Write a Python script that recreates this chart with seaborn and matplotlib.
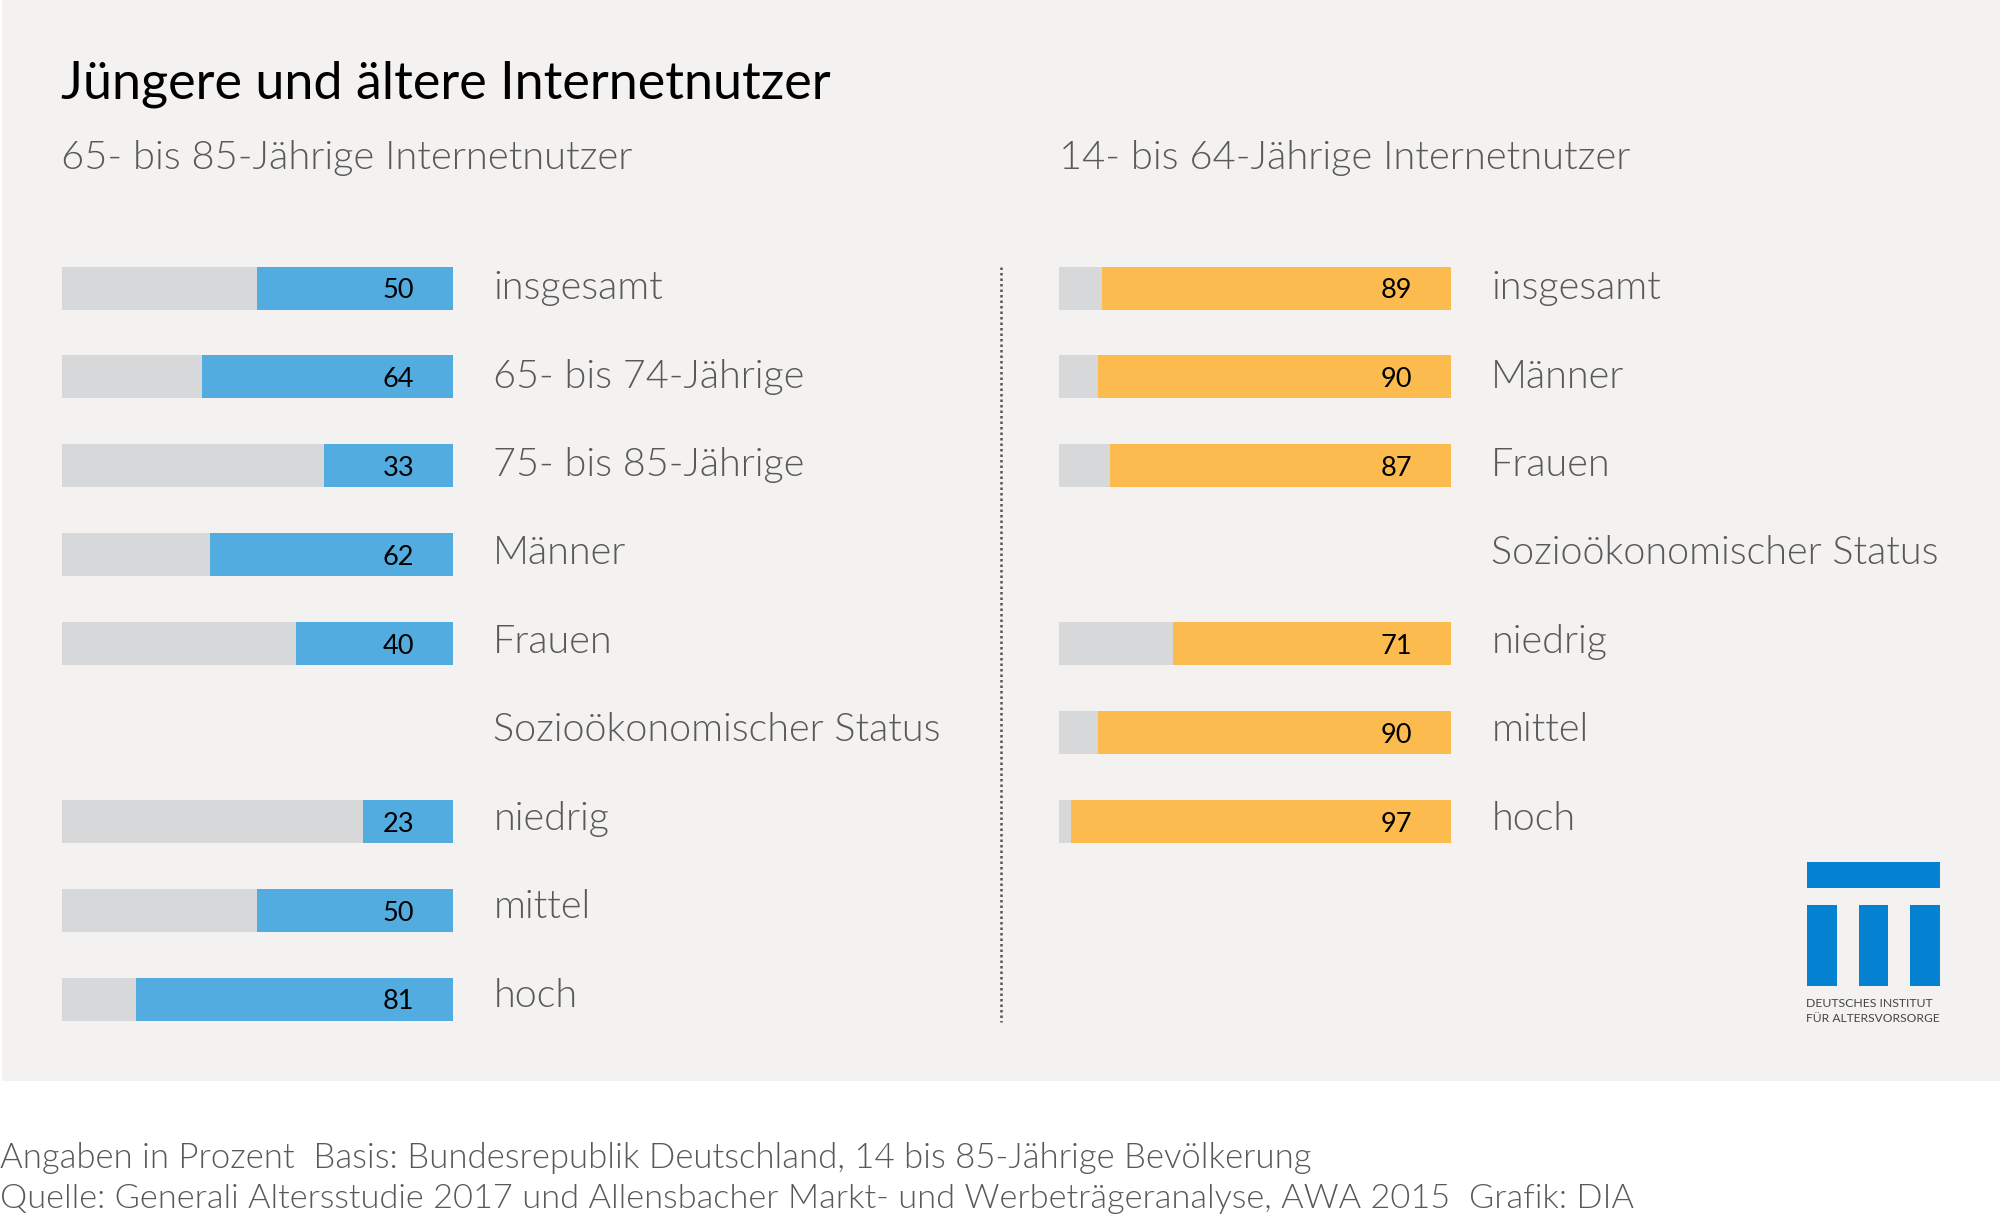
import matplotlib
matplotlib.use("Agg")
import matplotlib.pyplot as plt
from matplotlib.patches import Rectangle
import numpy as np
import pandas as pd
import seaborn as sns

W, H = 2000, 1215

title = "Jüngere und ältere Internetnutzer"
left_title = "65- bis 85-Jährige Internetnutzer"
right_title = "14- bis 64-Jährige Internetnutzer"
footer_1 = "Angaben in Prozent  Basis: Bundesrepublik Deutschland, 14 bis 85-Jährige Bevölkerung"
footer_2 = "Quelle: Generali Altersstudie 2017 und Allensbacher Markt- und Werbeträgeranalyse, AWA 2015  Grafik: DIA"

left_groups = ["insgesamt", "65- bis 74-Jährige", "75- bis 85-Jährige", "Männer", "Frauen",
               "Sozioökonomischer Status", "niedrig", "mittel", "hoch"]
left_values = [50, 64, 33, 62, 40, np.nan, 23, 50, 81]

right_groups = ["insgesamt", "Männer", "Frauen", "Sozioökonomischer Status", "niedrig", "mittel", "hoch"]
right_values = [89, 90, 87, np.nan, 71, 90, 97]

BG = "#f3f2f1"
TRACK = "#d7d8da"
BLUE = "#52acdf"
ORANGE = "#fbbb4e"
LOGO = "#0581d1"
GREY = "#595959"
THIN = 300

sns.set_theme(style="white")
plt.rcParams["font.family"] = ["Lato", "DejaVu Sans"]


def px_axes(fig, x0, y0, x1, y1):
    return fig.add_axes([x0 / W, 1 - y1 / H, (x1 - x0) / W, (y1 - y0) / H])


def fig_text(fig, x, y, s, **kw):
    fig.text(x / W, 1 - y / H, s, va="baseline", ha="left", **kw)


def panel(ax, groups, values, color):
    df = pd.DataFrame({"gruppe": groups, "wert": values})
    df["rest"] = df["wert"].where(df["wert"].isna(), 100)
    # x axis runs backwards so the bars grow from the right edge
    sns.barplot(data=df, x="rest", y="gruppe", order=groups, color=TRACK, saturation=1,
                width=0.484, errorbar=None, linewidth=0, orient="h", ax=ax)
    sns.barplot(data=df, x="wert", y="gruppe", order=groups, color=color, saturation=1,
                width=0.484, errorbar=None, linewidth=0, orient="h", ax=ax)
    ax.set_xlim(100, 0)
    ax.set_ylim(len(groups) - 0.5, -0.5)
    ax.set_xlabel("")
    ax.set_ylabel("")
    ax.set_xticks([])
    ax.yaxis.tick_right()
    # labels sit on a slightly tighter pitch than the bars
    ax.set_yticks(np.arange(len(groups)) * 0.995, labels=groups)
    ax.tick_params(axis="y", length=0, pad=29, labelsize=28.5, labelcolor=GREY)
    for label in ax.get_yticklabels():
        label.set_fontweight(THIN)
        label.set_verticalalignment("center")
    for side in ax.spines.values():
        side.set_visible(False)
    ax.patch.set_alpha(0)
    for i, v in enumerate(values):
        if not np.isnan(v):
            ax.text(14, i + 0.03, f"{v:.0f}", ha="center", va="center", fontsize=19.5, color="black")


fig = plt.figure(figsize=(W / 100, H / 100), dpi=100, facecolor="white")
fig.patches.append(Rectangle((2 / W, 1 - 1081 / H), 1 - 2 / W, 1081 / H, transform=fig.transFigure,
                             facecolor=BG, edgecolor="none", zorder=-5))

row = 88.9
top = 243.6
ax_l = px_axes(fig, 61.5, top, 453, top + row * len(left_groups))
panel(ax_l, left_groups, left_values, BLUE)
ax_r = px_axes(fig, 1059, top, 1451, top + row * len(right_groups))
panel(ax_r, right_groups, right_values, ORANGE)

fig_text(fig, 61, 99, title, fontsize=37.5, color="black")
fig_text(fig, 61, 169, left_title, fontsize=28.7, color=GREY, fontweight=THIN)
fig_text(fig, 1059, 169, right_title, fontsize=28.7, color=GREY, fontweight=THIN)
fig_text(fig, 0, 1168, footer_1, fontsize=25.05, color=GREY, fontweight=THIN)
fig_text(fig, 0, 1208, footer_2, fontsize=24.75, color=GREY, fontweight=THIN)

# dotted divider between the two panels
fig.add_artist(plt.Line2D([1001 / W, 1001 / W], [1 - 267 / H, 1 - 1022 / H], color="#555555",
                          linewidth=1.8, linestyle=(0, (1, 1.2))))

# DIA logo
for x0, y0, x1, y1 in [(1807, 862, 1940, 888), (1807, 905, 1837, 986), (1859, 905, 1888, 986), (1910, 905, 1940, 986)]:
    fig.patches.append(Rectangle((x0 / W, 1 - y1 / H), (x1 - x0) / W, (y1 - y0) / H, transform=fig.transFigure,
                                 facecolor=LOGO, edgecolor="none"))
fig_text(fig, 1806, 1007, "DEUTSCHES INSTITUT", fontsize=8.8, color="#444444")
fig_text(fig, 1806, 1022, "FÜR ALTERSVORSORGE", fontsize=8.65, color="#444444")

fig.savefig("out.png", dpi=100, facecolor="white")
